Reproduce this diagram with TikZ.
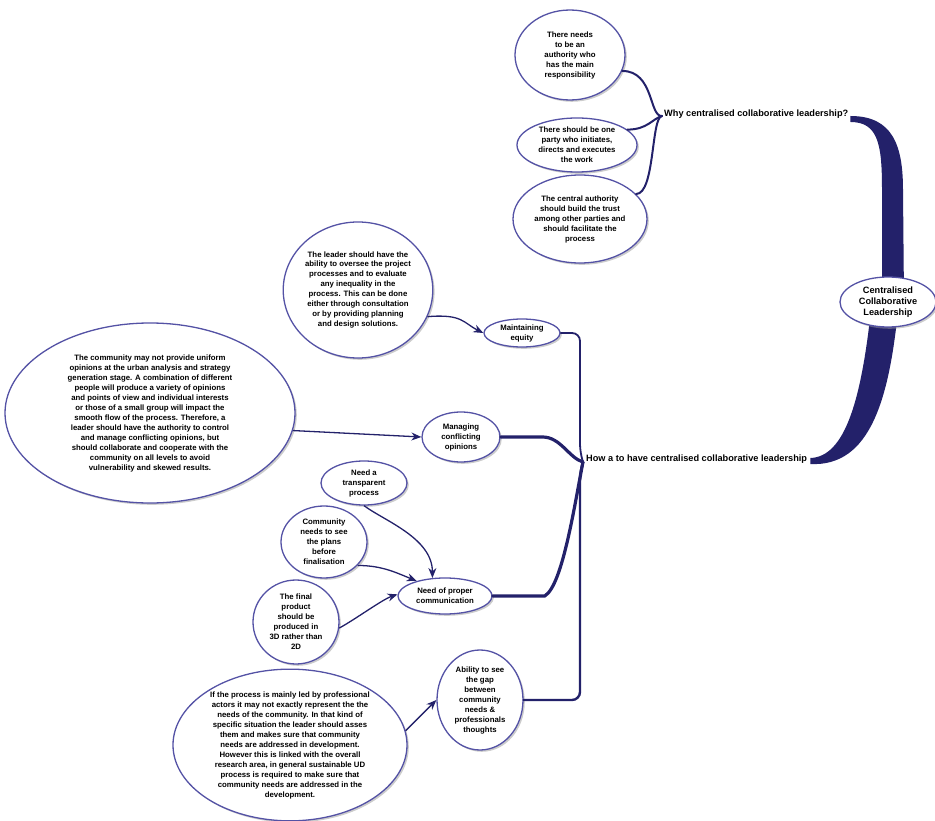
\documentclass[tikz,border=0pt]{standalone}
\usepackage{fontspec}
\setmainfont{Liberation Sans}
\usetikzlibrary{arrows.meta,shapes.geometric,shadows,calc}

\definecolor{navy}{RGB}{35,33,106}
\definecolor{rim}{RGB}{84,82,165}

\tikzset{
    bubble/.style={ellipse, draw=rim, line width=1.3pt, fill=white, inner sep=0pt,
        align=center, font=\bfseries\fontsize{7.8}{10}\selectfont,
        drop shadow={shadow xshift=1.8pt, shadow yshift=-1.8pt, fill=black!40}},
    head/.style={font=\bfseries\fontsize{9.2}{11}\selectfont, inner sep=0pt},
    brace/.style={draw=navy, line width=2pt, line cap=round},
    feed/.style={draw=navy, line width=1.3pt, -{Stealth[length=10pt,width=8pt]}},
}

\begin{document}
\begin{tikzpicture}[x=1pt, y=-1pt]
    \useasboundingbox (0,0) rectangle (935,821);

    % upper branch: why
    \node[bubble, minimum width=110, minimum height=90] (e1) at (570,55)
        {There needs\\to be an\\authority who\\has the main\\responsibility};
    \node[bubble, minimum width=120, minimum height=54] (e2) at (577,145)
        {There should be one\\party who initiates,\\directs and executes\\the work};
    \node[bubble, minimum width=134, minimum height=88] (e3) at (580,219)
        {The central authority\\should build the trust\\among other parties and\\should facilitate the\\process};
    \node[head, anchor=west] (why) at (664,114) {Why centralised collaborative leadership?};
    \coordinate (wj) at ($(why.west)+(-2,2)$);

    \draw[brace] (e1.-17) .. controls +(32,0) and +(-13,1) .. (wj);
    \draw[brace] (e2.17) .. controls +(20,0) and +(-10,3) .. (wj);
    \draw[brace] (e3.24) .. controls +(19,0) and +(-11,1) .. (wj);

    % lower branch: how
    \node[head, anchor=west] (how) at (586,459) {How a to have centralised collaborative leadership};
    \coordinate (hj) at ($(how.west)+(-3,3)$);

    \node[bubble, minimum width=146, minimum height=136] (e4) at (358,290)
        {The leader should have the\\ability to oversee the project\\processes and to evaluate\\any inequality in the\\process. This can be done\\either through consultation\\or by providing planning\\and design solutions.};
    \node[bubble, minimum width=76, minimum height=28] (maint) at (522,333)
        {Maintaining\\equity};
    \node[bubble, minimum width=290, minimum height=180] (e5) at (150,413)
        {The community may not provide uniform\\opinions at the urban analysis and strategy\\generation stage. A combination of different\\people will produce a variety of opinions\\and points of view and individual interests\\or those of a small group will impact the\\smooth flow of the process. Therefore, a\\leader should have the authority to control\\and manage conflicting opinions, but\\should collaborate and cooperate with the\\community on all levels to avoid\\vulnerability and skewed results.};
    \node[bubble, minimum width=78, minimum height=50] (manag) at (461,437)
        {Managing\\conflicting\\opinions};
    \node[bubble, minimum width=86, minimum height=44] (transp) at (364,483)
        {Need a\\transparent\\process};
    \node[bubble, minimum width=86, minimum height=72] (see) at (324,542)
        {Community\\needs to see\\the plans\\before\\finalisation};
    \node[bubble, minimum width=86, minimum height=84] (final) at (296,622)
        {The final\\product\\should be\\produced in\\3D rather than\\2D};
    \node[bubble, minimum width=94, minimum height=36] (comm) at (445,596)
        {Need of proper\\communication};
    \node[bubble, minimum width=86, minimum height=100] (gap) at (480,700)
        {Ability to see\\the gap\\between\\community\\needs \&\\professionals\\thoughts};
    \node[bubble, minimum width=234, minimum height=144] (e6) at (290,745)
        {If the process is mainly led by professional\\actors it may not exactly represent the the\\needs of the community. In that kind of\\specific situation the leader should asses\\them and makes sure that community\\needs are addressed in development.\\However this is linked with the overall\\research area, in general sustainable UD\\process is required to make sure that\\community needs are addressed in the\\development.};

    \draw[brace, line width=1.8pt, rounded corners=8] (maint.east) -| ($(hj)+(-3,-10)$) -- (hj);
    \draw[brace, line width=3.2pt] (manag.east) -- ++(42,0) .. controls +(18,0) and +(-14,-4) .. (hj);
    \draw[brace, line width=3.2pt] (comm.east) -- ++(52,0) .. controls +(18,-10) and +(-8,40) .. (hj);
    \draw[brace, line width=2.4pt, rounded corners=8] (gap.east) -| ($(hj)+(-3,10)$) -- (hj);

    \draw[feed] (e4.-21) .. controls +(35,-3) and +(-20,-10) .. (maint.west);
    \draw[feed] (e5.-7) -- (manag.west);
    \draw[feed] (transp.south) .. controls +(20,15) and +(0,-40) .. (comm.125);
    \draw[feed] (see.-35) .. controls +(25,0) and +(-20,-8) .. (comm.152);
    \draw[feed] (final.-8) .. controls +(15,-8) and +(-15,5) .. (comm.178);
    \draw[feed] (e6.7) -- (gap.west);

    % centre and its two thick arms
    \fill[navy] ($(why.east)+(2,2)$) .. controls +(42,0) and +(0,-45) .. (903,190) -- (904,300)
        -- (882,300) -- (882,190) .. controls +(0,-45) and +(28,0) .. ($(why.east)+(2,8)$) -- cycle;
    \fill[navy] (899,300) .. controls (890,400) and (870,467) .. ($(how.east)+(3,5)$)
        -- ($(how.east)+(3,-1)$) .. controls (845,457) and (862,400) .. (872,300) -- cycle;
    \node[bubble, minimum width=96, minimum height=50, font=\bfseries\fontsize{9.2}{11}\selectfont] (central) at (888,302)
        {Centralised\\Collaborative\\Leadership};
\end{tikzpicture}
\end{document}
